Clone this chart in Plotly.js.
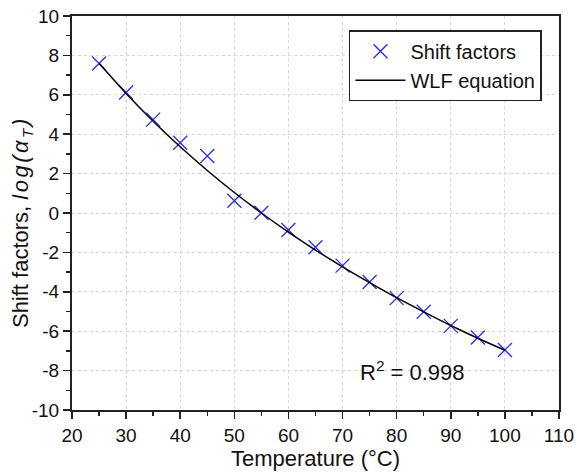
<!DOCTYPE html>
<html>
<head>
<meta charset="utf-8">
<script src="https://cdn.plot.ly/plotly-3.0.1.min.js"></script>
<style>html,body{margin:0;padding:0;background:#fff;}#chart{width:577px;height:476px;}</style>
</head>
<body>
<div id="chart"></div>
<script>
// Measured shift factors
const temperature = [25, 30, 35, 40, 45, 50, 55, 60, 65, 70, 75, 80, 85, 90, 95, 100];
const shiftFactors = [7.59, 6.12, 4.74, 3.57, 2.89, 0.62, 0.01, -0.86, -1.74, -2.67, -3.5, -4.32, -5.01, -5.73, -6.32, -6.95];
// WLF equation curve
const wlfT = [25, 30, 35, 40, 45, 50, 55, 60, 65, 70, 75, 80, 85, 90, 95, 100];
const wlfY = [7.6, 6.07, 4.66, 3.36, 2.16, 1.04, 0, -0.97, -1.88, -2.73, -3.53, -4.30, -5.02, -5.71, -6.36, -6.97];
const legendNames = ['Shift factors', 'WLF equation'];
const r2Text = 'R<sup>2</sup> = 0.998';
// Tick labels
const xTickVals = [20, 30, 40, 50, 60, 70, 80, 90, 100, 110];
const xTickText = ['20', '30', '40', '50', '60', '70', '80', '90', '100', '110'];
const yTickVals = [-10, -8, -6, -4, -2, 0, 2, 4, 6, 8, 10];
const yTickText = ['-10', '-8', '-6', '-4', '-2', '0', '2', '4', '6', '8', '10'];
const xTitle = 'Temperature (°C)';
const yTitle = 'Shift factors, <span style="letter-spacing:2.5px"><i>log(α<sub>T</sub>)</i></span>';

const FONT = '"Liberation Sans", Arial, sans-serif';

const traces = [
  {
    x: temperature, y: shiftFactors, name: legendNames[0],
    mode: 'markers', type: 'scatter',
    marker: {symbol: 'x-thin', size: 14, color: '#2b2bff', line: {color: '#2b2bff', width: 1.3}}
  },
  {
    x: wlfT, y: wlfY, name: legendNames[1],
    mode: 'lines', type: 'scatter',
    line: {color: '#000', width: 1.5, shape: 'spline', smoothing: 0.8}
  }
];

const axisCommon = {
  showline: true, linecolor: '#222', linewidth: 2, mirror: true,
  ticks: 'outside', ticklen: 7, tickwidth: 1.5, tickcolor: '#222',
  showgrid: true, gridcolor: '#d6d6d6', griddash: 'dot', gridwidth: 1,
  zeroline: false,
  tickfont: {family: FONT, size: 19, color: '#111'}
};

const layout = {
  width: 577, height: 476,
  margin: {l: 72, r: 18, t: 16, b: 66},
  paper_bgcolor: '#fff', plot_bgcolor: '#fff',
  font: {family: FONT, color: '#111'},
  showlegend: true,
  xaxis: Object.assign({}, axisCommon, {
    range: [20, 110], tickmode: 'array', tickvals: xTickVals, ticktext: xTickText,
    minor: {ticks: 'outside', ticklen: 4, tickwidth: 1.5, tickcolor: '#222', dtick: 5, tick0: 20, showgrid: false},
    title: {text: xTitle, font: {family: FONT, size: 22, color: '#111'}, standoff: 2}
  }),
  yaxis: Object.assign({}, axisCommon, {
    range: [-10, 10], tickmode: 'array', tickvals: yTickVals, ticktext: yTickText,
    minor: {ticks: 'outside', ticklen: 4, tickwidth: 1.5, tickcolor: '#222', dtick: 1, tick0: -10, showgrid: false}
  }),
  legend: {
    x: 0.965, xanchor: 'right', y: 0.964, yanchor: 'top',
    bgcolor: '#fff', bordercolor: '#222', borderwidth: 1.5,
    itemwidth: 50,
    font: {family: FONT, size: 20, color: '#111'}
  },
  annotations: [
    {
      x: 83, y: -8, xref: 'x', yref: 'y', text: r2Text, showarrow: false,
      font: {family: FONT, size: 22, color: '#111'}
    },
    {
      x: -0.1027, y: 0.477, xref: 'paper', yref: 'paper', text: yTitle, showarrow: false,
      textangle: -90, xanchor: 'center', yanchor: 'middle',
      font: {family: FONT, size: 22, color: '#111'}
    }
  ]
};

Plotly.newPlot('chart', traces, layout, {displayModeBar: false, staticPlot: true});
</script>
</body>
</html>
